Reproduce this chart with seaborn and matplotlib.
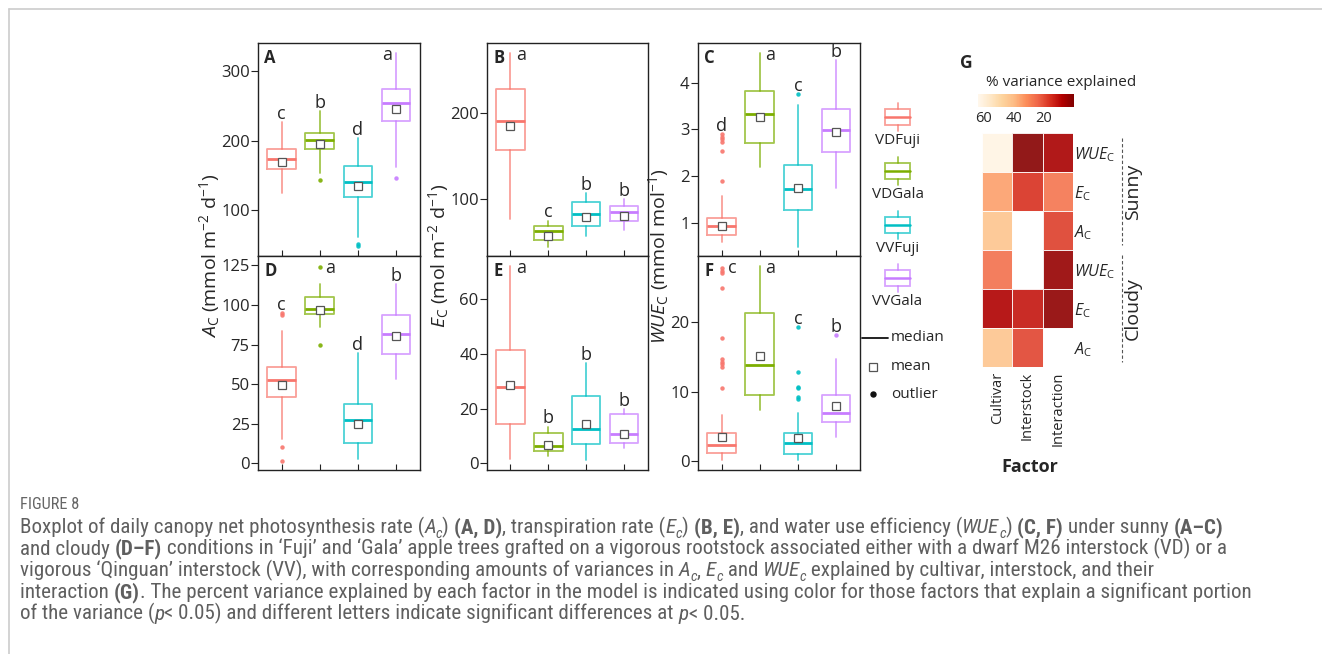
import numpy as np
import pandas as pd
import matplotlib
matplotlib.use("Agg")
import matplotlib.pyplot as plt
import seaborn as sns
from matplotlib import font_manager as fm
from matplotlib.transforms import IdentityTransform
from matplotlib.colors import Normalize
from matplotlib.cm import ScalarMappable
from matplotlib.font_manager import FontProperties
from matplotlib.patches import Rectangle

# ---------------- data ----------------
groups = ["VDFuji", "VDGala", "VVFuji", "VVGala"]
palette = ["#F8766D", "#7CAE00", "#00BFC4", "#C77CFF"]

# Panel A  (Ac, sunny)
A_lo = [125.5, 154, 61.5, 162.5]
A_q1 = [159.6, 188, 119, 228.4]
A_med = [174, 200.5, 140.4, 254]
A_q3 = [188.5, 212, 163, 275]
A_hi = [227, 243, 203.5, 326]
A_mean = [169, 195, 135, 245.7]
A_out = [[], [143], [52, 48], [146.6]]
A_let = ["c", "b", "d", "a"]

# Panel B  (Ec, sunny)
B_lo = [78, 45.4, 57.7, 64.6]
B_q1 = [156.5, 53.9, 70, 75.8]
B_med = [190, 63.4, 83.4, 86]
B_q3 = [227.6, 69.6, 97.3, 93]
B_hi = [269, 75.8, 107, 100]
B_mean = [184, 58.5, 80.4, 81]
B_out = [[], [], [], []]
B_let = ["a", "c", "b", "b"]

# Panel C  (WUEc, sunny)
C_lo = [0.58, 2.2, 0.49, 1.75]
C_q1 = [0.75, 2.71, 1.27, 2.51]
C_med = [0.93, 3.33, 1.72, 2.99]
C_q3 = [1.094, 3.82, 2.24, 3.43]
C_hi = [1.57, 4.63, 3.52, 4.48]
C_mean = [0.94, 3.26, 1.74, 2.95]
C_out = [[1.89, 2.54, 2.73, 2.79, 2.84, 2.91], [], [3.76], []]
C_let = ["d", "a", "c", "b"]

# Panel D  (Ac, cloudy)
D_lo = [15.2, 86.3, 2.9, 53.6]
D_q1 = [41.7, 94.3, 13, 69]
D_med = [52.6, 97.8, 27.3, 81.6]
D_q3 = [60.6, 104.8, 37.4, 94]
D_hi = [83.7, 113.6, 69.8, 113]
D_mean = [49.6, 96.8, 24.8, 80.4]
D_out = [[95, 94, 10.5, 1.5], [124, 74.5], [], []]
D_let = ["c", "a", "d", "b"]

# Panel E  (Ec, cloudy)
E_lo = [1.6, 2.8, 1.0, 5.5]
E_q1 = [14.4, 4.5, 7.1, 7.3]
E_med = [27.8, 6.4, 12.6, 10.6]
E_q3 = [41.5, 11.2, 24.6, 18]
E_hi = [72, 13.4, 36.8, 19.8]
E_mean = [28.6, 6.7, 14.4, 10.8]
E_out = [[], [], [], []]
E_let = ["a", "b", "b", "b"]

# Panel F  (WUEc, cloudy)
F_lo = [0.14, 7.4, 0.14, 3.4]
F_q1 = [1.1, 9.5, 1.0, 5.6]
F_med = [2.3, 13.8, 2.6, 7.0]
F_q3 = [4.0, 21.3, 4.1, 9.6]
F_hi = [6.65, 28.1, 7.0, 14.7]
F_mean = [3.4, 15.2, 3.3, 8.0]
F_out = [[27.8, 27.5, 27.1, 25, 17.7, 14.7, 14.3, 14, 13.6, 10.6], [],
         [19.3, 12.9, 10.7, 10.5, 9.3, 9.0], [18.2]]
F_let = ["c", "a", "c", "b"]

# Panel G heatmap (% variance explained, NaN = not significant)
factors = ["Cultivar", "Interstock", "Interaction"]
row_vars = ["WUE", "E", "A", "WUE", "E", "A"]
conditions = ["Sunny", "Cloudy"]
cultivar_var = [62, 35, 43, 26, 7.5, 43]
interstock_var = [1, 16, np.nan, np.nan, 11.5, 19]
interaction_var = [6.5, 27, 18, 3.5, 2.5, np.nan]
cbar_ticks = [60, 40, 20]

# ---------------- style ----------------
sns.set_style("ticks")
plt.rcParams["font.family"] = ["Open Sans", "DejaVu Sans"]
plt.rcParams["mathtext.fontset"] = "custom"
plt.rcParams["mathtext.rm"] = "Open Sans"
plt.rcParams["mathtext.it"] = "Open Sans:italic"
plt.rcParams["mathtext.bf"] = "Open Sans:bold"
plt.rcParams["axes.edgecolor"] = "#222222"
plt.rcParams["axes.linewidth"] = 1.0

W, H = 1322, 654
fig = plt.figure(figsize=(W / 100, H / 100), dpi=100)


def fax(x0, y0, x1, y1):
    return fig.add_axes([x0 / W, 1 - y1 / H, (x1 - x0) / W, (y1 - y0) / H])


panels = [
    ("A", A_lo, A_q1, A_med, A_q3, A_hi, A_mean, A_out, A_let, (34, 341), [100, 200, 300], (258, 43, 420, 256)),
    ("B", B_lo, B_q1, B_med, B_q3, B_hi, B_mean, B_out, B_let, (35, 280), [100, 200], (487, 43, 648, 256)),
    ("C", C_lo, C_q1, C_med, C_q3, C_hi, C_mean, C_out, C_let, (0.29, 4.85), [1, 2, 3, 4], (698, 43, 860, 256)),
    ("D", D_lo, D_q1, D_med, D_q3, D_hi, D_mean, D_out, D_let, (-4.2, 131), [0, 25, 50, 75, 100, 125], (258, 256, 420, 470)),
    ("E", E_lo, E_q1, E_med, E_q3, E_hi, E_mean, E_out, E_let, (-2.5, 75.8), [0, 20, 40, 60], (487, 256, 648, 470)),
    ("F", F_lo, F_q1, F_med, F_q3, F_hi, F_mean, F_out, F_let, (-1.3, 29.6), [0, 10, 20], (698, 256, 860, 470)),
]

for (lab, lo, q1, med, q3, hi, mean, out, let, ylim, yt, box) in panels:
    ax = fax(*box)
    ax.set_xlim(0.38, 4.63)
    ax.set_ylim(*ylim)
    px_per_unit = (box[3] - box[1]) / (ylim[1] - ylim[0])
    for i in range(4):
        c = palette[i]
        st = [dict(med=med[i], q1=q1[i], q3=q3[i], whislo=lo[i], whishi=hi[i],
                   mean=mean[i], fliers=out[i])]
        ax.bxp(st, positions=[i + 1], widths=0.75, showmeans=True, showcaps=False,
               showfliers=True, manage_ticks=False,
               boxprops=dict(color=c, alpha=0.7, lw=1.3),
               whiskerprops=dict(color=c, alpha=0.7, lw=1.3),
               medianprops=dict(color=c, lw=2.0),
               meanprops=dict(marker="s", markerfacecolor="white", markeredgecolor="#555555",
                              markersize=5.5, markeredgewidth=0.9, zorder=5),
               flierprops=dict(marker="o", markerfacecolor=c, markeredgecolor="none",
                               markersize=3.2, alpha=0.9))
        top = max([hi[i]] + list(out[i]))
        room = (ylim[1] - top) * px_per_unit
        if room < 16:
            dx = -0.22 if (lab == "A") else 0.27
            ax.annotate(let[i], (i + 1 + dx, ylim[1]), xytext=(0, -12.5), textcoords="offset points",
                        ha="center", va="baseline", fontsize=13, annotation_clip=False)
        else:
            ax.annotate(let[i], (i + 1, top), xytext=(0, 2.2), textcoords="offset points",
                        ha="center", va="baseline", fontsize=13, annotation_clip=False)
    ax.set_xticks([1, 2, 3, 4])
    ax.set_yticks(yt)
    ax.tick_params(axis="x", direction="in", length=4, labelbottom=False, color="#222222")
    ax.tick_params(axis="y", direction="out", length=5, labelsize=12, pad=1, color="#222222")
    ax.annotate(lab, (0, 1), xycoords="axes fraction", xytext=(4.5, -4.5), textcoords="offset points",
                ha="left", va="top", fontsize=12, fontweight="bold")

# y labels
fig.text(210 / W, 1 - 256 / H, r"$\it{A}_\mathrm{C}$ (mmol m$^{-2}$ d$^{-1}$)", rotation=90,
         ha="center", va="center", fontsize=14)
fig.text(439 / W, 1 - 256 / H, r"$\it{E}_\mathrm{C}$ (mol m$^{-2}$ d$^{-1}$)", rotation=90,
         ha="center", va="center", fontsize=14)
fig.text(659 / W, 1 - 256 / H, r"$\it{WUE}_\mathrm{C}$ (mmol mol$^{-1}$)", rotation=90,
         ha="center", va="center", fontsize=14)

# overlay axes in pixel coordinates (legend, frame, annotations)
ov = fig.add_axes([0, 0, 1, 1], zorder=10)
ov.set_xlim(0, W)
ov.set_ylim(H, 0)
ov.axis("off")

# page frame
ov.plot([9, W], [9, 9], color="#cccccc", lw=1.2)
ov.plot([9, 9], [9, H], color="#cccccc", lw=1.2)

# legend
for i, (g, c) in enumerate(zip(groups, palette)):
    cy = 116.7 + i * 53.9
    ov.add_patch(Rectangle((885, cy - 8), 25, 16, fill=False, edgecolor=c, alpha=0.7, lw=1.3))
    ov.plot([897.5, 897.5], [cy - 14, cy - 8], color=c, alpha=0.7, lw=1.3)
    ov.plot([897.5, 897.5], [cy + 8, cy + 14], color=c, alpha=0.7, lw=1.3)
    ov.plot([885, 910], [cy, cy], color=c, lw=1.8)
    ov.text(897.5, cy + 27, g, ha="center", va="baseline", fontsize=11)
ov.plot([862, 888], [337.7, 337.7], color="#111111", lw=1.3)
ov.text(891, 337.7, "median", ha="left", va="center", fontsize=11)
ov.plot([873], [367], marker="s", markerfacecolor="white", markeredgecolor="#555555",
        markersize=5.5, markeredgewidth=0.9)
ov.text(891, 367, "mean", ha="left", va="center", fontsize=11)
ov.plot([873], [394], marker="o", color="#111111", markersize=3.6)
ov.text(891, 394, "outlier", ha="left", va="center", fontsize=11)

# ---------------- heatmap G ----------------
hm = pd.DataFrame({"Cultivar": cultivar_var, "Interstock": interstock_var,
                   "Interaction": interaction_var})
row_labels = [r"$%s_\mathrm{C}$" % v for v in row_vars]
axh = fax(982.3, 132.7, 1072.7, 367.3)
sns.heatmap(hm, ax=axh, cmap="OrRd_r", vmin=0, vmax=64, cbar=False, alpha=0.9,
            xticklabels=factors, yticklabels=row_labels,
            linewidths=0.4, linecolor=(1, 1, 1, 0.35))
axh.yaxis.tick_right()
axh.tick_params(axis="both", length=0)
axh.tick_params(axis="y", pad=1, labelsize=11.5)
axh.tick_params(axis="x", pad=3, labelsize=10.5)
for t in axh.get_yticklabels():
    t.set_rotation(0)
    t.set_ha("left")
for t in axh.get_xticklabels():
    t.set_rotation(90)
axh.set_xlabel("")
axh.set_ylabel("")

cax = fax(978, 94.3, 1074, 107.3)
sm = ScalarMappable(norm=Normalize(0, 64), cmap="OrRd_r")
cb = fig.colorbar(sm, cax=cax, orientation="horizontal")
cb.outline.set_visible(False)
cax.invert_xaxis()
cb.set_ticks(cbar_ticks)
cb.set_ticklabels([str(v) for v in cbar_ticks])
cax.tick_params(direction="in", length=9.5, color=(1, 1, 1, 0.6), width=0.6, labelsize=10.5, pad=3)

ov.text(960, 62.5, "G", ha="left", va="center", fontsize=12.5, fontweight="bold")
ov.text(1061, 83, "% variance explained", ha="center", va="center", fontsize=11)
ov.text(1030, 467, "Factor", ha="center", va="center", fontsize=13, fontweight="bold")
for j, cond in enumerate(conditions):
    y0 = 132.7 + j * 117.3
    ov.plot([1121.7, 1121.7], [y0 + 5, y0 + 112], color="#555555", lw=0.8, ls=(0, (3, 2)))
    ov.text(1133, y0 + 58.7, cond, rotation=90, ha="center", va="center", fontsize=14)

# ---------------- caption ----------------
names = {f.name for f in fm.fontManager.ttflist}
cap_font = "Open Sans"
for cand in ["Roboto Condensed", "Liberation Sans Narrow", "Open Sans Condensed", "Noto Sans", "Open Sans"]:
    if cand in names:
        cap_font = cand
        break
cap_color = "#5f5f5f"

line1 = [("Boxplot of daily canopy net photosynthesis rate (", "n"), ("A", "i"), ("c", "sub"), (") ", "n"),
         ("(A, D)", "b"), (", transpiration rate (", "n"), ("E", "i"), ("c", "sub"), (") ", "n"),
         ("(B, E)", "b"), (", and water use efficiency (", "n"), ("WUE", "i"), ("c", "sub"), (") ", "n"),
         ("(C, F)", "b"), (" under sunny ", "n"), ("(A\u2013C)", "b")]
line2 = [("and cloudy ", "n"), ("(D\u2013F)", "b"),
         (" conditions in \u2018Fuji\u2019 and \u2018Gala\u2019 apple trees grafted on a vigorous rootstock "
          "associated either with a dwarf M26 interstock (VD) or a", "n")]
line3 = [("vigorous \u2018Qinguan\u2019 interstock (VV), with corresponding amounts of variances in ", "n"),
         ("A", "i"), ("c", "sub"), (", ", "n"), ("E", "i"), ("c", "sub"), (" and ", "n"), ("WUE", "i"),
         ("c", "sub"), (" explained by cultivar, interstock, and their", "n")]
line4 = [("interaction ", "n"), ("(G)", "b"),
         (". The percent variance explained by each factor in the model is indicated using color for "
          "those factors that explain a significant portion", "n")]
line5 = [("of the variance (", "n"), ("p", "i"), ("< 0.05) and different letters indicate significant "
                                               "differences at ", "n"), ("p", "i"), ("< 0.05.", "n")]
caption = [line1, line2, line3, line4, line5]

renderer = fig.canvas.get_renderer()


def props(style, size):
    if style == "b":
        return FontProperties(family=cap_font, weight="bold", size=size)
    if style == "i":
        return FontProperties(family=cap_font, style="italic", size=size)
    if style == "sub":
        return FontProperties(family=cap_font, style="italic", size=size * 0.7)
    return FontProperties(family=cap_font, size=size)


def twidth(s, fp):
    w1, _, _ = renderer.get_text_width_height_descent("x" + s + "x", fp, ismath=False)
    w2, _, _ = renderer.get_text_width_height_descent("xx", fp, ismath=False)
    return w1 - w2


def run_width(runs, size):
    return sum(twidth(t, props(s, size)) for t, s in runs)


size = 12.0
size = size * (1218 - 20) / run_width(line1, size)

fig.text(20, H - 509, "FIGURE 8", transform=IdentityTransform(),
         fontproperties=FontProperties(family=cap_font, size=size * 0.78),
         color="#666666", ha="left", va="baseline")
for k, runs in enumerate(caption):
    x = 20
    yb = H - (533 + k * 21.7)
    for t, s in runs:
        fp = props(s, size)
        dy = -size * 0.22 * 100 / 72 if s == "sub" else 0
        fig.text(x, yb + dy, t, transform=IdentityTransform(), fontproperties=fp,
                 color=cap_color, ha="left", va="baseline")
        x += twidth(t, fp)

fig.savefig("out.png", dpi=100)
